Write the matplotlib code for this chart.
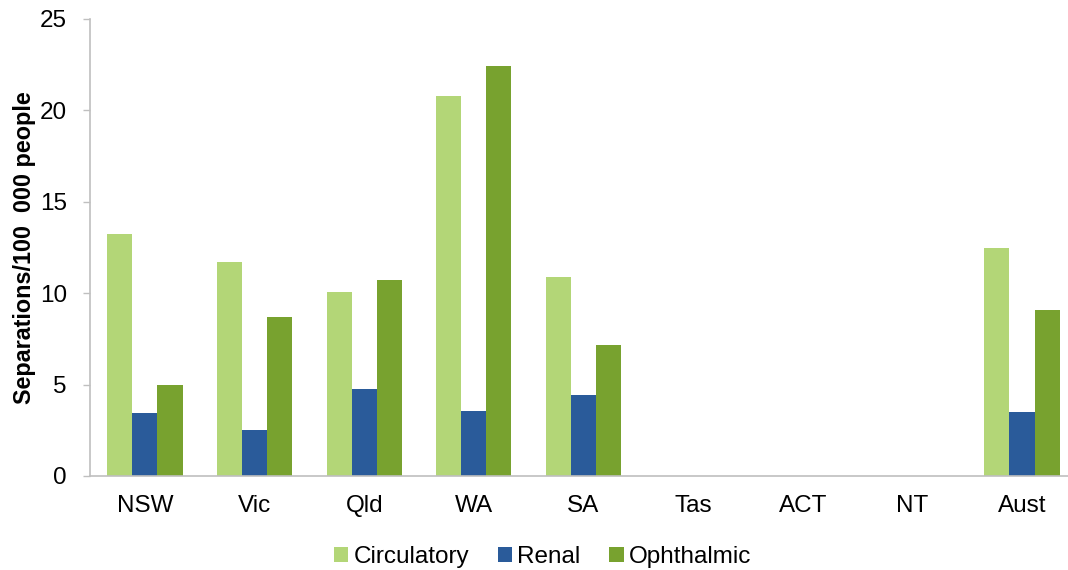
import matplotlib
matplotlib.use("Agg")
import matplotlib.pyplot as plt
import numpy as np

plt.rcParams['font.family'] = ['Liberation Sans', 'DejaVu Sans']

categories = ["NSW", "Vic", "Qld", "WA", "SA", "Tas", "ACT", "NT", "Aust"]
circulatory = [13.23, 11.70, 10.07, 20.80, 10.87, np.nan, np.nan, np.nan, 12.47]
renal = [3.43, 2.54, 4.76, 3.56, 4.43, np.nan, np.nan, np.nan, 3.52]
ophthalmic = [4.95, 8.67, 10.72, 22.43, 7.15, np.nan, np.nan, np.nan, 9.09]

series = [("Circulatory", circulatory, "#B3D677"),
          ("Renal", renal, "#2A5B9A"),
          ("Ophthalmic", ophthalmic, "#78A22F")]

fig = plt.figure(figsize=(10.68, 5.70), dpi=100)
ax = fig.add_axes([0.0847, 0.165, 0.9153, 0.802])

x = np.arange(len(categories))
w = 0.229
for i, (name, vals, col) in enumerate(series):
    ax.bar(x + (i - 1) * w, vals, width=w, color=col, label=name)

ax.set_xlim(-0.497, 8.42)
ax.set_ylim(0, 25)
ax.set_yticks([0, 5, 10, 15, 20, 25])
ax.set_xticks(x)
ax.set_xticklabels(categories)
ax.tick_params(axis='x', length=0, labelsize=17.5, pad=14, colors='black')
ax.tick_params(axis='y', length=5, width=1, color='#BFBFBF', labelsize=17.5, pad=12)
for s in ['top', 'right']:
    ax.spines[s].set_visible(False)
for s in ['left', 'bottom']:
    ax.spines[s].set_color('#BFBFBF')
    ax.spines[s].set_linewidth(1.2)

ax.set_ylabel("Separations/100  000 people", fontsize=16.8, fontweight='bold', labelpad=3)

leg = fig.legend(loc='lower center', bbox_to_anchor=(0.508, -0.035), ncol=3, frameon=False,
                 fontsize=17.5, handlelength=0.58, handleheight=0.58, handletextpad=0.2,
                 columnspacing=1.2)

fig.savefig("out.png", dpi=100)
